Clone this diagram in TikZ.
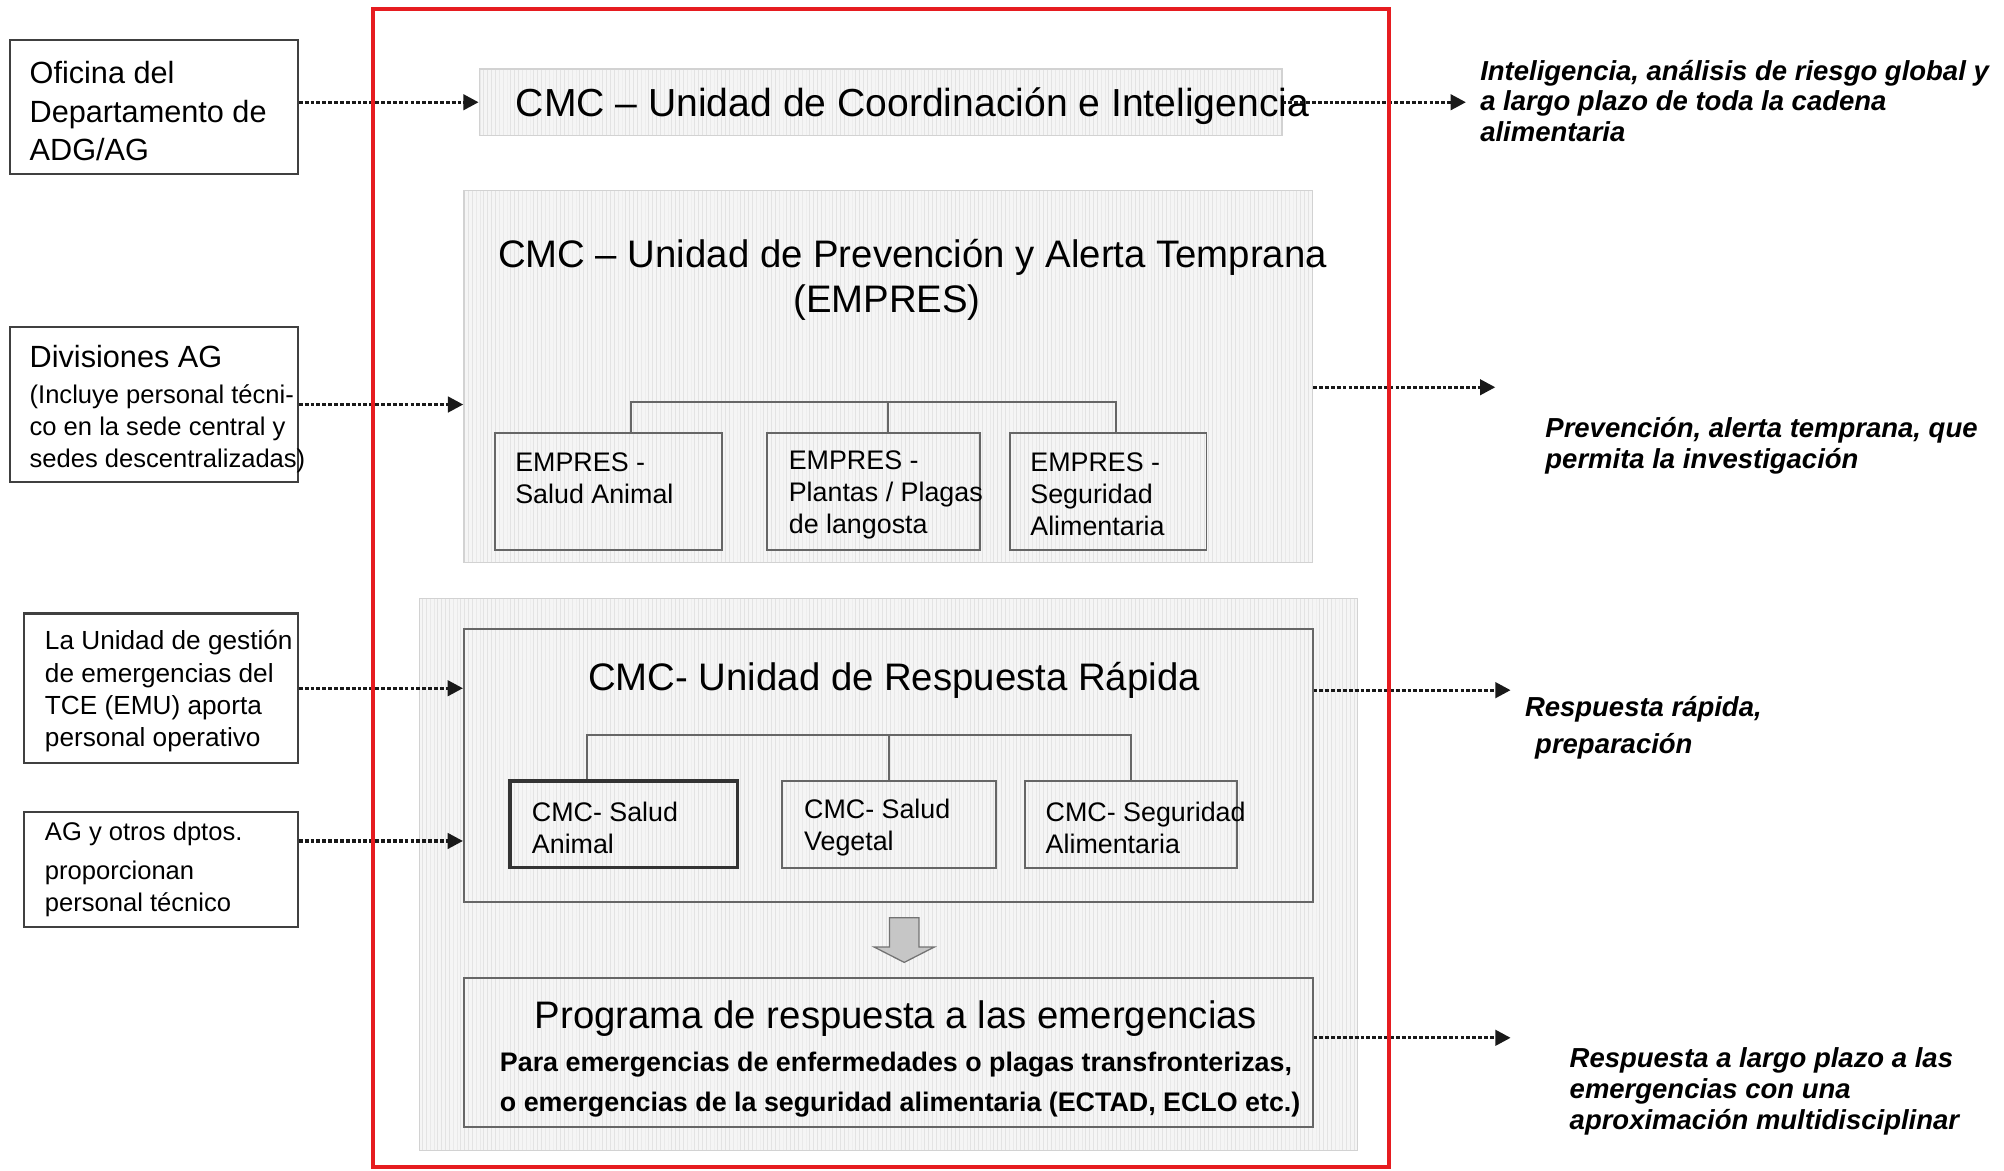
\documentclass[tikz,border=0pt]{standalone}
\usepackage{fontspec}
\setmainfont{Liberation Sans}
\usetikzlibrary{arrows.meta,calc,patterns}
\definecolor{framered}{RGB}{230,28,32}
\tikzset{
  >={Triangle[length=12pt,width=12pt]},
  srcbox/.style={draw=black!75,line width=1.6pt,fill=white,inner sep=0pt},
  stripe/.style={preaction={fill=gray!8},pattern=vertical lines,pattern color=gray!22,inner sep=0pt},
  panel/.style={stripe,draw=gray!35,line width=1pt},
  unitbox/.style={stripe,draw=black!60,line width=1.5pt},
  txt/.style={inner sep=0pt,align=left,anchor=west},
  subtxt/.style={txt,font=\fontsize{21}{25}\selectfont},
  head/.style={inner sep=0pt,font=\fontsize{30}{36}\selectfont},
  note/.style={txt,font=\fontsize{21.5}{24}\selectfont\bfseries\itshape},
  flow/.style={->,line width=2.6pt,dash pattern=on 3pt off 1.6pt,draw=black!90},
  treeline/.style={draw=black!60,line width=1.5pt},
  cmcframe/.style={draw=framered,line width=3pt,inner sep=0pt}
}

\begin{document}
\begin{tikzpicture}[x=1pt,y=-1pt]
  \useasboundingbox (0,0) rectangle (1568,916);

  %--- Coordination unit ------------------------------------------------------
  \node[panel,minimum width=628,minimum height=52] (coord) at (689,80) {};
  \node[head,font=\fontsize{30.6}{36}\selectfont] (coordT) at (714,83) {CMC – Unidad de Coordinación e Inteligencia};

  %--- Prevention unit (EMPRES) -----------------------------------------------
  \node[panel,minimum width=664,minimum height=291] (empres) at (695,294.5) {};
  \node[head] (empresT) at (714,201) {CMC – Unidad de Prevención y Alerta Temprana};
  \node[head] (empresT2) at (694,237) {(EMPRES)};

  \node[unitbox,minimum width=178,minimum height=91] (ea) at (476,384.5) {};
  \node[unitbox,minimum width=167,minimum height=91] (ep) at (683.5,384.5) {};
  \node[unitbox,minimum width=154,minimum height=91] (es) at (867,384.5) {};
  \node[subtxt] (eaT) at (403,374.5) {EMPRES -\\Salud Animal};
  \node[subtxt] (epT) at (617,387) {EMPRES -\\Plantas / Plagas\\de langosta};
  \node[subtxt] (esT) at (806,387) {EMPRES -\\Seguridad\\Alimentaria};

  \draw[treeline] ($(ea.north)+(18,0)$) |- ($(es.north)+(6,-24)$) -- ($(es.north)+(6,0)$);
  \draw[treeline] ($(ep.north)+(11.5,0)$) -- ++(0,-24);

  %--- Rapid response unit ----------------------------------------------------
  \node[panel,minimum width=734,minimum height=432] (resp) at (695,684) {};
  \node[unitbox,minimum width=664,minimum height=214] (rapid) at (695,599) {};
  \node[head] (rapidT) at (699.5,532) {CMC- Unidad de Respuesta Rápida};

  \node[unitbox,minimum width=178,minimum height=68,line width=2.5pt,draw=black!80] (ra) at (488,645) {};
  \node[unitbox,minimum width=167,minimum height=68] (rv) at (695.5,645) {};
  \node[unitbox,minimum width=166,minimum height=68] (rs) at (885,645) {};
  \node[subtxt] (raT) at (416,647.5) {CMC- Salud\\Animal};
  \node[subtxt] (rvT) at (629,647.5) {CMC- Salud\\Vegetal};
  \node[subtxt] (rsT) at (818,647.5) {CMC- Seguridad\\Alimentaria};

  \draw[treeline] ($(ra.north)+(-29,0)$) |- ($(rs.north)+(0,-35)$) -- (rs.north);
  \draw[treeline] (rv.north) -- ++(0,-35);

  % block arrow down
  \draw[fill=gray!45,draw=black!55,line width=1pt]
    (696,718) -- (719,718) -- (719,741) -- (731,741) -- (707.5,753)
    -- (684,741) -- (696,741) -- cycle;

  \node[unitbox,minimum width=664,minimum height=117] (prog) at (695,823.5) {};
  \node[head] (progT) at (701,797) {Programa de respuesta a las emergencias};
  \node[txt,font=\fontsize{21}{31}\selectfont\bfseries] (progB) at (391,848.5)
    {Para emergencias de enfermedades o plagas transfronterizas,\\o emergencias de la seguridad alimentaria (ECTAD, ECLO etc.)};

  %--- Left: contributing offices ---------------------------------------------
  \node[srcbox,minimum width=225,minimum height=105] (ofi) at (120.5,83.5) {};
  \node[txt,font=\fontsize{24}{30}\selectfont] (ofiT) at (23,87) {Oficina del\\Departamento de\\ADG/AG};

  \node[srcbox,minimum width=225,minimum height=121] (div) at (120.5,316.5) {};
  \node[txt,font=\fontsize{20}{25}\selectfont] (divT) at (23,320)
    {{\fontsize{24}{29}\selectfont Divisiones AG}\\[3pt](Incluye personal técni-\\co en la sede central y\\sedes descentralizadas)};

  \node[srcbox,minimum width=214,minimum height=117] (emu) at (126,538.5) {};
  \node[txt,font=\fontsize{20.5}{25.3}\selectfont] (emuT) at (35,541)
    {La Unidad de gestión\\de emergencias del\\TCE (EMU) aporta\\personal operativo};

  \node[srcbox,minimum width=214,minimum height=90] (agd) at (126,680) {};
  \node[txt,font=\fontsize{20}{24.5}\selectfont] (agdT) at (35,680)
    {AG y otros dptos.\\[6.5pt]proporcionan\\personal técnico};

  \draw[flow] (ofi.east |- coord.west) -- (coord.west);
  \draw[flow] (div.east) -- (div.east -| empres.west);
  \draw[flow] (emu.east) -- (emu.east -| rapid.west);
  \draw[flow] ($(agd.east)+(0,-22)$) -- ($(agd.east -| rapid.west)+(0,-22)$);

  %--- Right: outputs ---------------------------------------------------------
  \coordinate (o1) at (1147,80);
  \coordinate (o2) at (1170,303);
  \coordinate (o3) at (1182,540);
  \coordinate (o4) at (1182,812);
  \draw[flow] (coord.east) -- (o1);
  \draw[flow] (empres.east |- o2) -- (o2);
  \draw[flow] (rapid.east |- o3) -- (o3);
  \draw[flow] (prog.east |- o4) -- (o4);

  \node[note] (n1) at (1158,79) {Inteligencia, análisis de riesgo global y\\a largo plazo de toda la cadena\\alimentaria};
  \node[note] (n2) at (1209,349) {Prevención, alerta temprana, que\\permita la investigación};
  \node[note,font=\fontsize{21.5}{29}\selectfont\bfseries\itshape] (n3) at (1193,569.5) {Respuesta rápida,\\\hspace*{8pt}preparación};
  \node[note] (n4) at (1228,854) {Respuesta a largo plazo a las\\emergencias con una\\aproximación multidisciplinar};

  %--- CMC frame --------------------------------------------------------------
  \node[cmcframe,minimum width=795,minimum height=906] (cmc) at (689.5,460) {};
\end{tikzpicture}
\end{document}
